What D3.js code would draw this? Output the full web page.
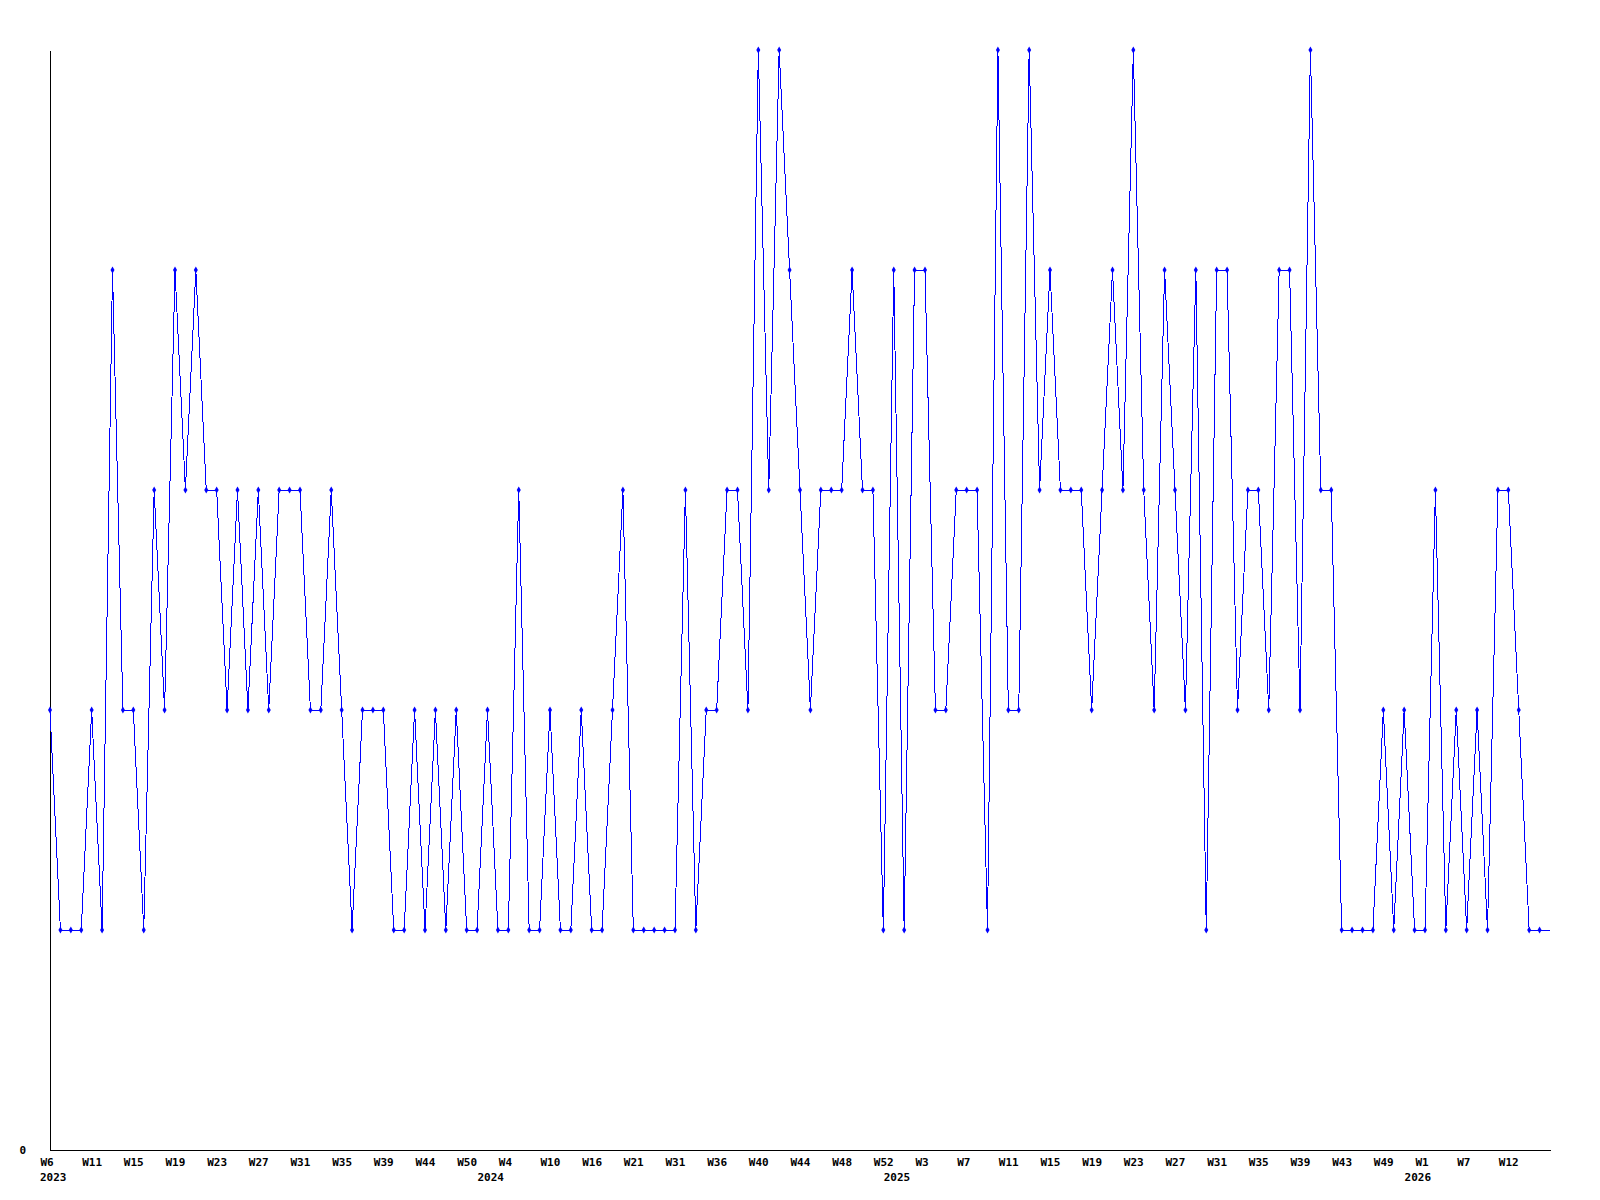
<!DOCTYPE html>
<html>
<head>
<meta charset="utf-8">
<script src="https://cdn.jsdelivr.net/npm/d3@7"></script>
<style>
  body { margin: 0; background: #fff; }
  svg text { font-family: "DejaVu Sans Mono", monospace; font-weight: bold; font-size: 11px; fill: #000; }
</style>
</head>
<body>
<svg id="chart" width="1600" height="1200"></svg>
<script>
// weekly counts, one per point (last one is the running week, no marker)
const values = [
  2,1,1,1,2,1,4,2,2,1,3,2,4,3,4,3,3,2,3,2,3,2,3,3,3,
  2,2,3,2,1,2,2,2,1,1,2,1,2,1,2,1,1,2,1,1,3,1,1,2,
  1,1,2,1,1,2,3,1,1,1,1,1,3,1,2,2,3,3,2,5,3,5,4,3,2,
  3,3,3,4,3,3,1,4,1,4,4,2,2,3,3,3,1,5,2,2,5,3,4,3,
  3,3,2,3,4,3,5,3,2,4,3,2,4,1,4,4,2,3,3,2,4,4,2,5,3,
  3,1,1,1,1,2,1,2,1,1,3,1,2,1,2,1,3,3,2,1,1,1
]
// one label every 4th point
const weekLabels = ["W6","W11","W15","W19","W23","W27","W31","W35","W39","W44","W50","W4",
  "W10","W16","W21","W31","W36","W40","W44","W48","W52","W3","W7","W11",
  "W15","W19","W23","W27","W31","W35","W39","W43","W49","W1","W7","W12"]
const yearLabels = ["2023", "2024", "2025", "2026"]
const yearIndex = [0, 42, 81, 131]

const svg = d3.select('#chart')
const m = { left: 50, right: 1550, top: 50, bottom: 1150 }

const x = d3.scaleLinear().domain([0, values.length - 1]).range([m.left, m.right])
const y = d3.scaleLinear().domain([0, 5]).range([m.bottom, m.top])

const xAxis = d3.axisBottom(x)
  .tickValues(weekLabels.map((d, i) => i * 4))
  .tickFormat((d, i) => weekLabels[i])
  .tickSize(0)
  .tickPadding(8)

const gx = svg.append('g')
  .attr('transform', `translate(0,${m.bottom})`)
  .call(xAxis)
gx.select('.domain').attr('stroke', '#000').attr('shape-rendering', 'crispEdges')
gx.selectAll('text')
  .attr('text-anchor', 'start')
  .attr('dx', -10)
  .style('font-family', '"DejaVu Sans Mono", monospace')
  .style('font-weight', 'bold')
  .style('font-size', '11px')

svg.append('g').selectAll('text')
  .data(yearLabels)
  .enter().append('text')
    .attr('x', (d, i) => x(yearIndex[i]) - 10)
    .attr('y', m.bottom + 31)
    .text(d => d)

const gy = svg.append('g')
  .attr('transform', `translate(${m.left},0)`)
  .call(d3.axisLeft(y).tickValues([0]).tickFormat(d3.format('d')).tickSize(0).tickPadding(24))
gy.select('.domain').attr('stroke', '#000').attr('shape-rendering', 'crispEdges')
gy.selectAll('text')
  .style('font-family', '"DejaVu Sans Mono", monospace')
  .style('font-weight', 'bold')
  .style('font-size', '11px')

const line = d3.line()
  .x((d, i) => x(i))
  .y(d => y(d))

svg.append('path')
  .datum(values)
  .attr('fill', 'none')
  .attr('stroke', '#0000ff')
  .attr('stroke-width', 1)
  .attr('shape-rendering', 'crispEdges')
  .attr('d', line)

const marker = d3.symbol().type(d3.symbolDiamond).size(14)

svg.append('g').selectAll('path')
  .data(values.slice(0, -1))
  .enter().append('path')
    .attr('d', marker)
    .attr('fill', '#0000ff')
    .attr('transform', (d, i) => `translate(${x(i)},${y(d)})`)
</script>
</body>
</html>
